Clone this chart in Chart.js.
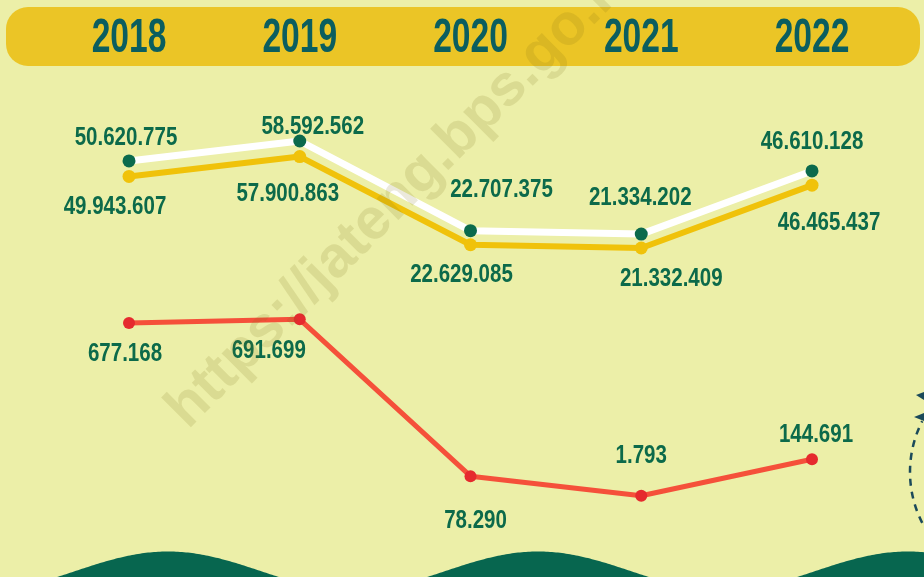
<!DOCTYPE html>
<html>
<head>
<meta charset="utf-8">
<script src="https://cdn.jsdelivr.net/npm/chart.js@4.4.1/dist/chart.umd.min.js"></script>
<style>
  html, body { margin: 0; padding: 0; background: #ECEFA8; }
  #wrap { width: 924px; height: 577px; }
</style>
</head>
<body>
<div id="wrap"><canvas id="c" width="924" height="577"></canvas></div>
<script>
// ---- data ----
const years = ['2018', '2019', '2020', '2021', '2022'];
const seriesWhite  = [50620775, 58592562, 22707375, 21334202, 46610128];
const seriesYellow = [49943607, 57900863, 22629085, 21332409, 46465437];
const seriesRed    = [677168, 691699, 78290, 1793, 144691];

// ---- label placement relative to each point (layout only) ----
const offWhite  = [[-3, -25], [13, -16], [31, -43], [-1, -38], [0, -31]];
const offYellow = [[-14, 29], [-12, 35], [-9, 28], [30, 29], [17, 36]];
const offRed    = [[-4, 29], [-31, 30], [5, 43], [0, -42], [4, -26]];

const BG = '#ECEFA8';
const BANNER = '#EBC526';
const YEAR_COLOR = '#0B5E5F';
const LABEL_COLOR = '#0C6A4A';
const WAVE = '#07664F';

function fmt(n) { return String(n).replace(/\B(?=(\d{3})+(?!\d))/g, '.'); }

function drawCondensed(ctx, text, x, cy, size, sx, color, capRatio) {
  ctx.save();
  ctx.font = 'bold ' + size + 'px "Liberation Sans", Arial, sans-serif';
  ctx.fillStyle = color;
  ctx.textAlign = 'center';
  ctx.textBaseline = 'alphabetic';
  ctx.translate(x, cy + size * capRatio / 2);
  ctx.scale(sx, 1);
  ctx.fillText(text, 0, 0);
  ctx.restore();
}

const decorPlugin = {
  id: 'decor',
  beforeDraw(chart) {
    const ctx = chart.ctx;
    const W = chart.width, H = chart.height;
    ctx.save();
    ctx.fillStyle = BG;
    ctx.fillRect(0, 0, W, H);

    // banner
    ctx.fillStyle = BANNER;
    ctx.beginPath();
    ctx.roundRect(6, 7, 914, 59, 22);
    ctx.fill();

    // bottom waves
    ctx.fillStyle = WAVE;
    ctx.beginPath();
    ctx.moveTo(0, H);
    for (let x = 0; x <= W; x += 2) {
      const y = 571 - 19.5 * Math.cos(2 * Math.PI * (x - 168) / 370);
      ctx.lineTo(x, y);
    }
    ctx.lineTo(W, H);
    ctx.closePath();
    ctx.fill();

    // dashed arc at right edge
    ctx.strokeStyle = '#1B4A5A';
    ctx.lineWidth = 2.5;
    ctx.setLineDash([7, 6]);
    ctx.beginPath();
    ctx.arc(1022, 472, 112, 153 * Math.PI / 180, 207 * Math.PI / 180);
    ctx.stroke();
    ctx.setLineDash([]);
    ctx.fillStyle = '#1B4A5A';
    ctx.beginPath();
    ctx.moveTo(914, 417); ctx.lineTo(924, 413); ctx.lineTo(924, 421); ctx.closePath();
    ctx.fill();
    ctx.beginPath();
    ctx.moveTo(916, 395); ctx.lineTo(924, 392); ctx.lineTo(924, 400); ctx.closePath();
    ctx.fill();
    ctx.restore();

    // year labels in banner, positioned by the category scale
    const xs = chart.scales.x;
    years.forEach((y, i) => {
      drawCondensed(ctx, y, xs.getPixelForValue(i), 35, 48, 0.7, YEAR_COLOR, 0.716);
    });
  },
  afterDatasetsDraw(chart) {
    const ctx = chart.ctx;
    const sets = [
      { idx: 0, vals: seriesWhite, off: offWhite },
      { idx: 1, vals: seriesYellow, off: offYellow },
      { idx: 2, vals: seriesRed, off: offRed }
    ];
    sets.forEach(s => {
      const meta = chart.getDatasetMeta(s.idx);
      meta.data.forEach((pt, i) => {
        drawCondensed(ctx, fmt(s.vals[i]), pt.x + s.off[i][0], pt.y + s.off[i][1], 25, 0.82, LABEL_COLOR, 0.716);
      });
    });
  },
  afterDraw(chart) {
    const ctx = chart.ctx;
    ctx.save();
    ctx.translate(188, 430);
    ctx.rotate(-0.785);
    ctx.font = 'bold 58px "Liberation Sans", Arial, sans-serif';
    ctx.fillStyle = 'rgba(120,110,20,0.15)';
    ctx.textBaseline = 'alphabetic';
    ctx.fillText('https://jateng.bps.go.id', 0, 0);
    ctx.restore();
  }
};

new Chart(document.getElementById('c'), {
  type: 'line',
  data: {
    labels: years,
    datasets: [
      {
        data: seriesWhite, yAxisID: 'yW', order: 0,
        borderColor: '#FFFFFF', borderWidth: 7,
        pointBackgroundColor: '#0B6A4C', pointBorderWidth: 0, pointRadius: 6.5,
        tension: 0, clip: false, borderCapStyle: 'round', borderJoinStyle: 'round'
      },
      {
        data: seriesYellow, yAxisID: 'yY', order: 1,
        borderColor: '#F0C20A', borderWidth: 6,
        pointBackgroundColor: '#F0C20A', pointBorderWidth: 0, pointRadius: 6.5,
        tension: 0, clip: false, borderCapStyle: 'round', borderJoinStyle: 'round'
      },
      {
        data: seriesRed, yAxisID: 'yR', order: 2,
        borderColor: '#F5503A', borderWidth: 5,
        pointBackgroundColor: '#E52A2E', pointBorderWidth: 0, pointRadius: 6,
        tension: 0, clip: false, borderCapStyle: 'round', borderJoinStyle: 'round'
      }
    ]
  },
  options: {
    responsive: false,
    devicePixelRatio: 1,
    animation: false,
    events: [],
    layout: { padding: { left: 129, right: 112, top: 0, bottom: 0 } },
    plugins: { legend: { display: false }, tooltip: { enabled: false } },
    scales: {
      x: { type: 'category', display: false, offset: false },
      yW: { type: 'linear', display: false, min: -113250000, max: 112400000 },
      yY: { type: 'linear', display: false, min: -107710000, max: 117950000 },
      yR: { type: 'linear', display: false, min: -290300, max: 1914500 }
    }
  },
  plugins: [decorPlugin]
});
</script>
</body>
</html>
